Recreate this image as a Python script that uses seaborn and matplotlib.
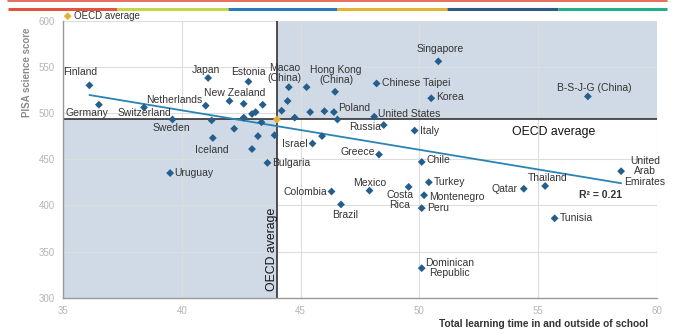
import matplotlib
matplotlib.use('Agg')
import matplotlib.pyplot as plt
from matplotlib.patches import Rectangle
from matplotlib.lines import Line2D
import seaborn as sns
import pandas as pd

# ---------------- data ----------------
labels = ["Finland", "Germany", "Switzerland", "Netherlands", "Sweden", "Japan", "Estonia",
          "New Zealand", "Iceland", "Bulgaria", "Uruguay", "Macao\n(China)", "Hong Kong\n(China)",
          "Israel", "Singapore", "Chinese Taipei", "Korea", "B-S-J-G (China)", "Poland",
          "United States", "Russia", "Italy", "Greece", "Chile", "United\nArab\nEmirates",
          "Colombia", "Mexico", "Brazil", "Costa\nRica", "Turkey", "Montenegro", "Peru",
          "Dominican\nRepublic", "Qatar", "Thailand", "Tunisia",
          "", "", "", "", "", "", "", "", "", "", "", "", "", "", "", "", "", "", ""]
hours = [36.1, 36.5, 38.4, 41.0, 39.6, 41.1, 42.8,
         42.0, 41.3, 43.6, 39.5, 44.5, 46.45,
         45.5, 50.8, 48.2, 50.5, 57.1, 46.4,
         48.1, 48.5, 49.8, 48.3, 50.1, 58.5,
         46.3, 47.9, 46.7, 49.55, 50.4, 50.2, 50.1,
         50.1, 54.4, 55.3, 55.7,
         42.6, 43.4, 41.25, 42.2, 42.6, 42.95, 43.1, 43.35, 43.2, 42.95, 43.9,
         45.25, 44.45, 44.2, 44.75, 45.4, 46.0, 46.55, 45.9]
science = [530, 509, 506, 508, 493, 538, 534,
           513, 473, 446, 435, 528, 523,
           467, 556, 532, 516, 518, 501,
           496, 487, 481, 455, 447, 437,
           415, 416, 401, 420, 425, 411, 397,
           332, 418, 421, 386,
           510, 509, 492, 483, 495, 499, 501, 490, 475, 461, 476,
           528, 513, 502.5, 495, 501, 502, 493, 475]
oecd_hours = 44.0
oecd_score = 493
x_ticks = [35, 40, 45, 50, 55, 60]
y_ticks = [300, 350, 400, 450, 500, 550, 600]

# label placement (offset in pixels, alignment) -- layout only
label_pos = {
    "Finland": (-9, 13, "center"), "Germany": (-12, -8, "center"),
    "Switzerland": (0, -6, "center"), "Netherlands": (-3, 6, "right"),
    "Sweden": (-1, -9, "center"), "Japan": (-2, 8, "center"),
    "Estonia": (0, 10, "center"), "New Zealand": (5, 8, "center"),
    "Iceland": (-1, -12, "center"), "Bulgaria": (5, 0, "left"),
    "Uruguay": (4, 0, "left"), "Macao\n(China)": (-4, 14, "center"),
    "Hong Kong\n(China)": (1, 17, "center"), "Israel": (-5, 0, "right"),
    "Singapore": (2, 12, "center"), "Chinese Taipei": (5, 0, "left"),
    "Korea": (5, 1, "left"), "B-S-J-G (China)": (6, 8, "center"),
    "Poland": (4, 4, "left"), "United States": (4, 3, "left"),
    "Russia": (-3, -2, "right"), "Italy": (5, 0, "left"),
    "Greece": (-4, 3, "right"), "Chile": (5, 2, "left"),
    "United\nArab\nEmirates": (24, 0, "center"), "Colombia": (-4, 0, "right"),
    "Mexico": (0, 8, "center"), "Brazil": (4, -11, "center"),
    "Costa\nRica": (-9, -13, "center"), "Turkey": (5, 0, "left"),
    "Montenegro": (5, -2, "left"), "Peru": (5, 0, "left"),
    "Dominican\nRepublic": (28, 0, "center"), "Qatar": (-6, 0, "right"),
    "Thailand": (3, 8, "center"), "Tunisia": (5, 0, "left"),
}

df = pd.DataFrame({"label": labels, "hours": hours, "science": science})

# ---------------- style ----------------
sns.set_theme(style="whitegrid")
plt.rcParams['font.family'] = ['Liberation Sans', 'DejaVu Sans']

MARK = "#255E8C"
LINE = "#2A83B5"
SHADE = "#D0DAE6"
GOLD = "#E6B02E"
TXT = "#333333"

fig = plt.figure(figsize=(6.75, 3.34), dpi=100)
ax = fig.add_axes([0.0938, 0.1087, 0.8791, 0.8293])
ax.set_facecolor("white")

ax.set_xlim(35, 60)
ax.set_ylim(300, 600)
ax.set_xticks(x_ticks)
ax.set_yticks(y_ticks)
ax.set_axisbelow(True)
ax.grid(True, color="#dddddd", lw=0.8)

# quadrant shading
ax.add_patch(Rectangle((35, 300), oecd_hours - 35, oecd_score - 300, facecolor=SHADE, lw=0, zorder=0))
ax.add_patch(Rectangle((oecd_hours, oecd_score), 60 - oecd_hours, 600 - oecd_score, facecolor=SHADE, lw=0, zorder=0))

ax.axvline(oecd_hours, color="#222222", lw=1.1, zorder=2)
ax.axhline(oecd_score, color="#222222", lw=1.1, zorder=2)

sns.regplot(data=df, x="hours", y="science", scatter=False, ci=None, truncate=True,
            line_kws=dict(color=LINE, lw=1.3, zorder=2.5), ax=ax)
sns.scatterplot(data=df, x="hours", y="science", marker="D", s=16, color=MARK,
                edgecolor="none", ax=ax, zorder=3, legend=False)
oecd_pt = ax.scatter([oecd_hours], [oecd_score], marker="D", s=16, color=GOLD, zorder=4,
                     label="OECD average", edgecolors="none")

for lab, x, y in zip(labels, hours, science):
    if not lab:
        continue
    dx, dy, ha = label_pos[lab]
    ax.annotate(lab, (x, y), xytext=(dx, dy), textcoords="offset pixels",
                ha=ha, va="center", fontsize=7.5, color=TXT, multialignment="center",
                linespacing=1.05, zorder=5)

ax.text(55.65, 479.5, "OECD average", ha="center", va="center", fontsize=8.8, color="#111111")
ax.text(43.8, 352, "OECD average", ha="center", va="center", fontsize=8.8,
        color="#111111", rotation=90)
ax.text(57.64, 411.2, "R² = 0.21", ha="center", va="center", fontsize=7.5,
        fontweight="bold", color=TXT)

ax.set_xlabel("")
ax.set_ylabel("")
ax.tick_params(axis="both", labelsize=7, colors="#b5b5b5", length=0, pad=6)
for s in ["top", "right"]:
    ax.spines[s].set_visible(False)
for s in ["left", "bottom"]:
    ax.spines[s].set_color("#9a9a9a")
    ax.spines[s].set_linewidth(1.0)

leg = ax.legend(handles=[oecd_pt], loc="lower left", bbox_to_anchor=(0.0, 1.0),
                frameon=False, fontsize=7, handletextpad=0.2, borderpad=0,
                handlelength=0.9, borderaxespad=0)
for t in leg.get_texts():
    t.set_color(TXT)

fig.text(648 / 675, 1 - 324.3 / 334, "Total learning time in and outside of school",
         ha="right", va="center", fontsize=7.3, fontweight="bold", color=TXT)
fig.text(27 / 675, 1 - 72.5 / 334, "PISA science score", rotation=90,
         ha="center", va="center", fontsize=7, fontweight="bold", color="#8a8a8a")

# top decoration bars
fig.add_artist(Line2D([8 / 675, 667 / 675], [1 - 1 / 334] * 2, color="#E0553F", lw=1.2))
segs = [(8, 117, "#E0553F"), (117, 228, "#C6D64A"), (228, 337, "#2B7BB9"),
        (337, 447, "#E5B332"), (447, 558, "#2E5A87"), (558, 667, "#22B08A")]
for a, b, c in segs:
    fig.add_artist(Line2D([a / 675, b / 675], [1 - 8.5 / 334] * 2, color=c, lw=2.2,
                          solid_capstyle="butt"))

fig.savefig("out.png", dpi=100)
